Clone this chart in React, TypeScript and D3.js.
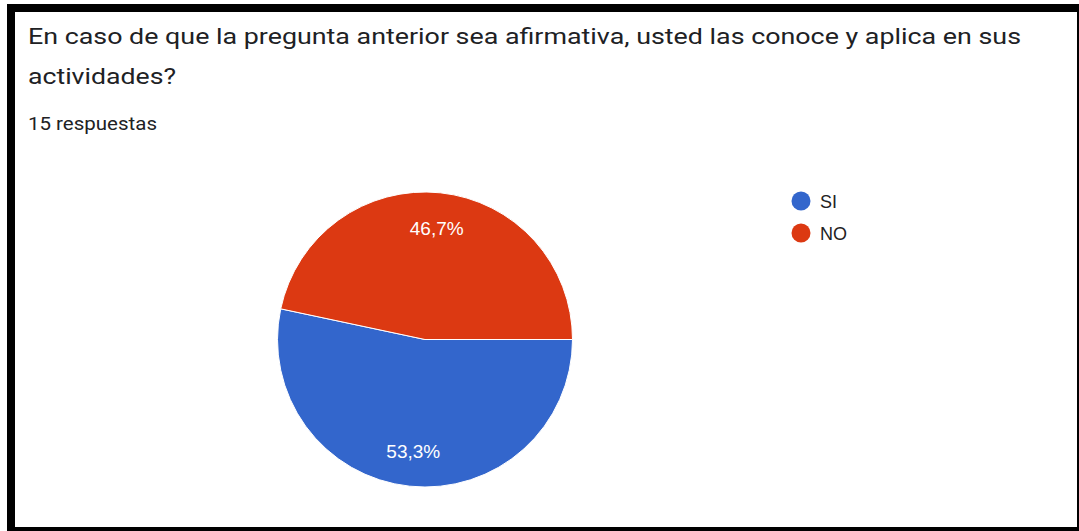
import React from "react";
import * as d3 from "d3";

const titleLines = [
  "En caso de que la pregunta anterior sea afirmativa, usted las conoce y aplica en sus",
  "actividades?",
];
const titleWidths = [993, 148];
const subtitle = "15 respuestas";
const categories = ["SI", "NO"];
const counts = [8, 7];
const colors = ["#3366cc", "#dc3912"];

const W = 1079;
const H = 531;

export default function App() {
  const cx = 425;
  const cy = 339.5;
  const R = 147.5;
  const total = d3.sum(counts);
  const pie = d3
    .pie<number>()
    .sort(null)
    .startAngle(Math.PI / 2)
    .endAngle(Math.PI / 2 + 2 * Math.PI)
    .value((d) => d);
  const arcs = pie(counts);
  const arc = d3.arc<d3.PieArcDatum<number>>().innerRadius(0).outerRadius(R);
  const labelArc = d3
    .arc<d3.PieArcDatum<number>>()
    .innerRadius(112)
    .outerRadius(112);
  const fmt = (v: number) =>
    ((v / total) * 100).toFixed(1).replace(".", ",") + "%";

  const legendY = d3
    .scalePoint<string>()
    .domain(categories)
    .range([201, 233]);

  return (
    <svg
      width={W}
      height={H}
      style={{ position: "absolute", left: 0, top: 0, background: "#fff" }}
    >
      <rect x={0} y={0} width={W} height={H} fill="#fff" />
      <rect
        x={11}
        y={8}
        width={1070}
        height={523}
        fill="none"
        stroke="#000"
        strokeWidth={8}
      />
      {titleLines.map((t, i) => (
        <text
          key={i}
          x={28}
          y={44 + i * 40}
          fontFamily="Roboto, Arial, sans-serif"
          fontSize={22}
          fill="#202124"
          textLength={titleWidths[i]}
          lengthAdjust="spacingAndGlyphs"
        >
          {t}
        </text>
      ))}
      <text
        x={28}
        y={130}
        fontFamily="Roboto, Arial, sans-serif"
        fontSize={18.5}
        fill="#202124"
        textLength={129}
        lengthAdjust="spacingAndGlyphs"
      >
        {subtitle}
      </text>
      <g transform={`translate(${cx},${cy})`}>
        {arcs.map((a, i) => (
          <path
            key={i}
            d={arc(a) || ""}
            fill={colors[i]}
            stroke="#fff"
            strokeWidth={1}
          />
        ))}
        {arcs.map((a, i) => {
          const [lx, ly] = labelArc.centroid(a);
          return (
            <text
              key={"l" + i}
              x={lx}
              y={ly + 6.8}
              textAnchor="middle"
              fontFamily="Arial, 'Liberation Sans', sans-serif"
              fontSize={19}
              fill="#fff"
            >
              {fmt(a.data)}
            </text>
          );
        })}
      </g>
      {categories.map((c, i) => (
        <g key={c}>
          <circle cx={801} cy={legendY(c)!} r={9.5} fill={colors[i]} />
          <text
            x={820}
            y={legendY(c)! + 6.8}
            fontFamily="Arial, 'Liberation Sans', sans-serif"
            fontSize={18}
            fill="#222"
          >
            {c}
          </text>
        </g>
      ))}
    </svg>
  );
}
